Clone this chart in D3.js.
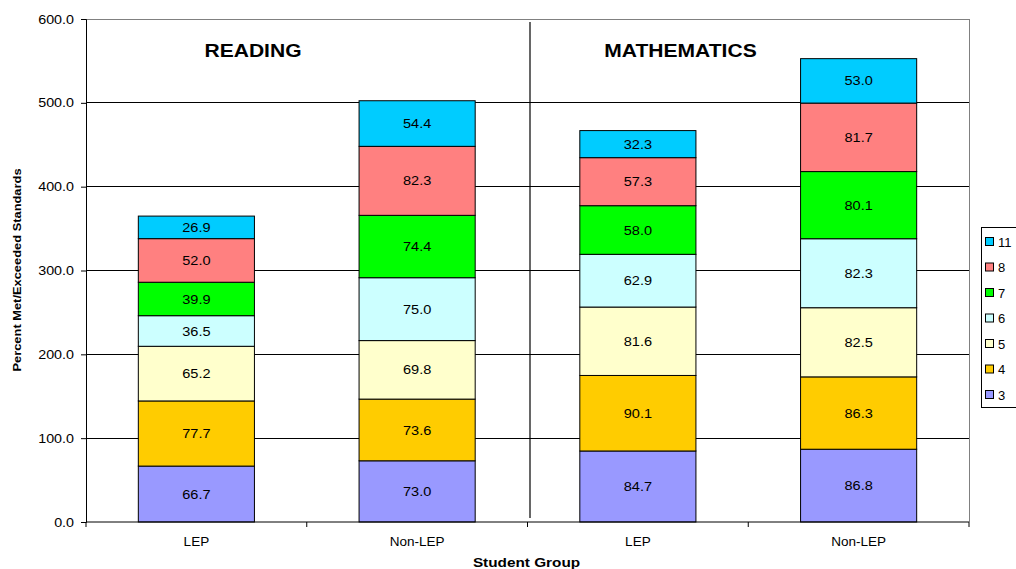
<!DOCTYPE html>
<html><head><meta charset="utf-8">
<script src="https://cdn.jsdelivr.net/npm/d3@7"></script>
<style>body{margin:0;background:#fff;}svg{display:block;font-family:"Liberation Sans",Arial,sans-serif;}</style>
</head><body>
<svg id="c" width="1016" height="569"></svg>
<script>
const groups = ["LEP","Non-LEP","LEP ","Non-LEP "];
const groupLabels = ["LEP","Non-LEP","LEP","Non-LEP"];
const grades = ["3","4","5","6","7","8","11"];
const g3  = [66.7, 73.0, 84.7, 86.8];
const g4  = [77.7, 73.6, 90.1, 86.3];
const g5  = [65.2, 69.8, 81.6, 82.5];
const g6  = [36.5, 75.0, 62.9, 82.3];
const g7  = [39.9, 74.4, 58.0, 80.1];
const g8  = [52.0, 82.3, 57.3, 81.7];
const g11 = [26.9, 54.4, 32.3, 53.0];
const colors = ["#9999FF","#FFCC00","#FFFFCC","#CCFFFF","#00FF00","#FF8080","#00CCFF"];
const yTicks = [0,100,200,300,400,500,600];
const subjects = ["READING","MATHEMATICS"];

const series = [g3,g4,g5,g6,g7,g8,g11];
const rows = groups.map((g,i)=>{const r={group:g}; grades.forEach((k,j)=>r[k]=series[j][i]); return r;});
const stacked = d3.stack().keys(grades)(rows);

const svg = d3.select("#c");
const L=86, R=969, T=19, B=522;
const x = d3.scaleBand().domain(groups).range([L,R]).paddingInner(0.474).paddingOuter(0.237);
const y = d3.scaleLinear().domain([0,600]).range([B,T]);

// gridlines
svg.append("g").selectAll("line").data(yTicks.filter(d=>d>0)).join("line")
  .attr("x1",L).attr("x2",R).attr("y1",d=>y(d)).attr("y2",d=>y(d))
  .attr("stroke",d=>d===600?"#808080":"#000").attr("stroke-width",1).attr("shape-rendering","crispEdges");
svg.append("line").attr("x1",R).attr("x2",R).attr("y1",T).attr("y2",B).attr("stroke","#808080").attr("shape-rendering","crispEdges");
svg.append("line").attr("x1",530).attr("x2",530).attr("y1",y(600)+3).attr("y2",B-4).attr("stroke","#000").attr("stroke-width",1.2);

// bars
const layer = svg.append("g").selectAll("g").data(stacked).join("g").attr("fill",(d,i)=>colors[i]);
layer.selectAll("rect").data(d=>d).join("rect")
  .attr("x",d=>x(d.data.group)).attr("width",x.bandwidth())
  .attr("y",d=>y(d[1])).attr("height",d=>y(d[0])-y(d[1]))
  .attr("stroke","#000").attr("stroke-width",1);
const lab = svg.append("g").selectAll("g").data(stacked).join("g");
lab.selectAll("text").data(d=>d.map(v=>({v, val:v[1]-v[0]}))).join("text")
  .attr("transform",d=>`translate(${x(d.v.data.group)+x.bandwidth()/2},${(y(d.v[0])+y(d.v[1]))/2}) scale(1.12,1)`)
  .attr("dy","0.35em").attr("text-anchor","middle").attr("font-size",13).attr("fill","#000")
  .text(d=>d.val.toFixed(1));

// axes
const ya = d3.axisLeft(y).tickValues(yTicks).tickFormat(d3.format(".1f")).tickSize(5).tickPadding(7);
const yg = svg.append("g").attr("transform",`translate(${L},0)`).call(ya);
yg.select(".domain").attr("stroke","#000");
yg.selectAll("text").attr("font-size",13).attr("fill","#000").attr("font-family","Liberation Sans, Arial, sans-serif")
  .attr("transform","translate(-12,0) scale(1.1,1)").attr("x",0);

const xg = svg.append("g").attr("transform",`translate(0,${B})`);
xg.append("line").attr("x1",L).attr("x2",R).attr("stroke","#000");
const bounds = groups.map(g=>x(g)-x.step()*x.paddingInner()/2).concat([R]);
bounds[0]=L;
xg.selectAll("line.tk").data(bounds).join("line").attr("class","tk")
  .attr("x1",d=>d).attr("x2",d=>d).attr("y1",0).attr("y2",5).attr("stroke","#000");
xg.selectAll("text").data(groups).join("text")
  .attr("transform",d=>`translate(${x(d)+x.bandwidth()/2},24) scale(1.04,1)`).attr("text-anchor","middle")
  .attr("font-size",13).text((d,i)=>groupLabels[i]);

// subject titles
svg.selectAll("text.subj").data(subjects).join("text").attr("class","subj")
  .attr("transform",(d,i)=>`translate(${i===0?253:680.5},57) scale(1.17,1)`).attr("text-anchor","middle")
  .attr("font-size",18).attr("font-weight","bold").text(d=>d);

// axis titles
svg.append("text").attr("transform","translate(21,270) rotate(-90) scale(1.17,1)").attr("text-anchor","middle")
  .attr("font-size",11).attr("font-weight","bold").text("Percent Met/Exceeded Standards");
svg.append("text").attr("transform","translate(526.5,567) scale(1.18,1)").attr("text-anchor","middle")
  .attr("font-size",13).attr("font-weight","bold").text("Student Group");

// legend
const lg = svg.append("g");
lg.append("rect").attr("x",981.5).attr("y",227.5).attr("width",40).attr("height",180).attr("fill","#fff").attr("stroke","#000");
const items = grades.slice().reverse();
const li = lg.selectAll("g").data(items).join("g").attr("transform",(d,i)=>`translate(985,${242+i*25.5})`);
li.append("rect").attr("x",0.5).attr("y",-4.5).attr("width",8).attr("height",8)
  .attr("fill",d=>colors[grades.indexOf(d)]).attr("stroke","#000");
li.append("text").attr("x",13).attr("y",0).attr("dy","0.35em").attr("font-size",13).text(d=>d);
</script>
</body></html>
